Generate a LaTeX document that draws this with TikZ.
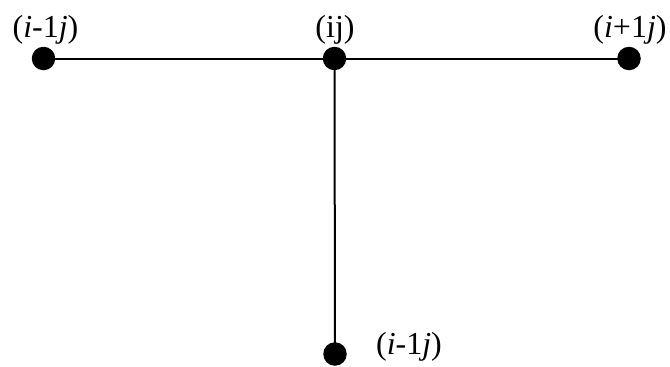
\documentclass[tikz,border=0pt]{standalone}
\usepackage{fontspec}
\setmainfont{Liberation Serif}
\begin{document}
\begin{tikzpicture}[x=1pt,y=-1pt,
  dot/.style={circle,fill=black,inner sep=0pt,minimum size=23.5pt},
  lbl/.style={anchor=base,inner sep=0pt,font=\fontsize{32}{36}\selectfont},
  edge/.style={line width=2pt}]
\useasboundingbox (0,0) rectangle (670,367);
\node[dot] (L) at (43.5,58.5) {};
\node[dot] (C) at (334.5,58.5) {};
\node[dot] (R) at (629,58.5) {};
\node[dot] (B) at (335,354) {};
\draw[edge] (L.center) -- (R.center);
\draw[edge] (C.center) -- (B.center);
\node[lbl] (tL) at (45.5,37) {(\textit{i}-1\textit{j})};
\node[lbl] (tC) at (335,37) {(ij)};
\node[lbl] (tR) at (630,37) {(\textit{i}+1\textit{j})};
\node[lbl] (tB) at (409,354) {(\textit{i}-1\textit{j})};
\end{tikzpicture}
\end{document}
